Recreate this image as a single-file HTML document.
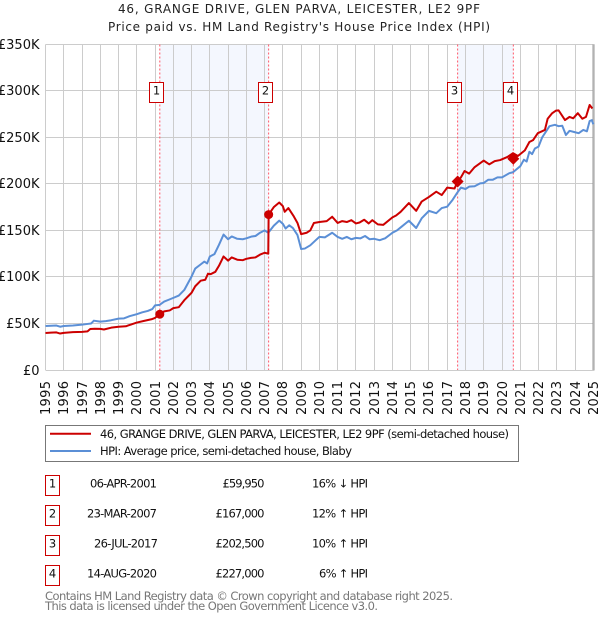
<!DOCTYPE html>
<html>
<head>
<meta charset="utf-8">
<style>
html,body{margin:0;padding:0;background:#fff;}
svg{display:block;font-family:"DejaVu Sans","Liberation Sans",sans-serif;}
</style>
</head>
<body>
<svg id="chart" width="600" height="620" viewBox="0 0 600 620" xmlns="http://www.w3.org/2000/svg">
  <rect width="600" height="620" fill="#fff"/>
  <text x="299" y="13" text-anchor="middle" font-size="12" fill="#222" textLength="362">46, GRANGE DRIVE, GLEN PARVA, LEICESTER, LE2 9PF</text>
  <text x="299" y="31" text-anchor="middle" font-size="12" fill="#222" textLength="382">Price paid vs. HM Land Registry's House Price Index (HPI)</text>
  <g id="bands"></g>
  <g id="grid"></g>
  <g id="ylabels"></g>
  <g id="xlabels"></g>
  <g id="series"></g>
  <g id="sales"></g>

  <g>
    <rect x="45.5" y="425.5" width="473" height="36" fill="#fff" stroke="#777" stroke-width="1"/>
    <line x1="50" x2="91" y1="433.8" y2="433.8" stroke="#cc0000" stroke-width="2"/>
    <text x="100" y="438" font-size="11.5" fill="#111" textLength="409">46, GRANGE DRIVE, GLEN PARVA, LEICESTER, LE2 9PF (semi-detached house)</text>
    <line x1="50" x2="91" y1="451" y2="451" stroke="#5b8fd6" stroke-width="2"/>
    <text x="100" y="455" font-size="11.5" fill="#111" textLength="252">HPI: Average price, semi-detached house, Blaby</text>
  </g>

  <g font-size="11.5" fill="#111">
    <rect x="45.5" y="475.5" width="14" height="20" fill="#fff" stroke="#cc0000" stroke-width="1"/>
    <text x="52.5" y="487.5" text-anchor="middle">1</text>
    <text x="157" y="487.5" text-anchor="end" textLength="67">06-APR-2001</text>
    <text x="264.5" y="487.5" text-anchor="end" textLength="42">£59,950</text>
    <text x="368" y="487.5" text-anchor="end" textLength="56">16% ↓ HPI</text>

    <rect x="45.5" y="505.5" width="14" height="20" fill="#fff" stroke="#cc0000" stroke-width="1"/>
    <text x="52.5" y="517.5" text-anchor="middle">2</text>
    <text x="157" y="517.5" text-anchor="end" textLength="70">23-MAR-2007</text>
    <text x="264.5" y="517.5" text-anchor="end" textLength="49">£167,000</text>
    <text x="368" y="517.5" text-anchor="end" textLength="56">12% ↑ HPI</text>

    <rect x="45.5" y="535.5" width="14" height="20" fill="#fff" stroke="#cc0000" stroke-width="1"/>
    <text x="52.5" y="547.5" text-anchor="middle">3</text>
    <text x="158" y="547.5" text-anchor="end" textLength="64">26-JUL-2017</text>
    <text x="264.5" y="547.5" text-anchor="end" textLength="49">£202,500</text>
    <text x="368" y="547.5" text-anchor="end" textLength="56">10% ↑ HPI</text>

    <rect x="45.5" y="565.5" width="14" height="20" fill="#fff" stroke="#cc0000" stroke-width="1"/>
    <text x="52.5" y="577.5" text-anchor="middle">4</text>
    <text x="157" y="577.5" text-anchor="end" textLength="70">14-AUG-2020</text>
    <text x="264.5" y="577.5" text-anchor="end" textLength="49">£227,000</text>
    <text x="368" y="577.5" text-anchor="end" textLength="49">6% ↑ HPI</text>
  </g>

  <text x="45" y="600" font-size="11.5" fill="#777" textLength="408">Contains HM Land Registry data © Crown copyright and database right 2025.</text>
  <text x="45" y="610" font-size="11.5" fill="#777" textLength="333">This data is licensed under the Open Government Licence v3.0.</text>
</svg>
<script>
const yearTicks = [1995,1996,1997,1998,1999,2000,2001,2002,2003,2004,2005,2006,2007,2008,2009,2010,2011,2012,2013,2014,2015,2016,2017,2018,2019,2020,2021,2022,2023,2024,2025];
const valueTicks = [0,50000,100000,150000,200000,250000,300000,350000];
const valueTickLabels = ['£0','£50K','£100K','£150K','£200K','£250K','£300K','£350K'];

const hpiDates = [1995,1995.3,1995.6,1995.8,1996,1996.5,1997,1997.3,1997.5,1997.65,1998,1998.3,1998.6,1999,1999.3,1999.6,2000,2000.3,2000.6,2000.85,2001,2001.25,2001.5,2001.75,2002,2002.3,2002.6,2003,2003.2,2003.5,2003.7,2003.85,2004,2004.25,2004.5,2004.75,2005,2005.2,2005.5,2005.8,2006,2006.3,2006.5,2006.75,2007,2007.2,2007.5,2007.8,2008,2008.15,2008.35,2008.55,2008.8,2009,2009.2,2009.5,2009.8,2010,2010.3,2010.7,2011,2011.25,2011.5,2011.75,2012,2012.25,2012.5,2012.75,2013,2013.3,2013.6,2014,2014.25,2014.5,2014.9,2015.3,2015.6,2016,2016.4,2016.7,2017,2017.3,2017.55,2017.75,2018,2018.2,2018.5,2018.8,2019,2019.25,2019.5,2019.75,2020,2020.4,2020.6,2021,2021.2,2021.35,2021.5,2021.65,2021.8,2022,2022.2,2022.4,2022.6,2022.9,2023.1,2023.3,2023.5,2023.7,2024,2024.2,2024.45,2024.65,2024.8,2024.92,2025];
const hpiValues = [47300,47600,47800,46500,47300,47800,48700,49500,50000,53000,52000,52500,53500,55200,55500,57800,60000,62000,63500,65500,69500,70000,73500,75500,77500,80000,86000,100500,109000,113500,116500,114500,122000,124500,134500,145500,140500,143500,141000,140500,141500,143500,144000,147500,150000,147500,155000,160500,157000,152000,155500,152500,145000,130000,130500,134000,139500,143000,142500,147500,143000,141000,143000,140500,142000,141500,144000,140500,141000,139500,141500,147500,150000,154000,160400,152600,163000,171000,168500,174000,175500,183000,190500,196000,194500,197000,197500,200500,201000,204500,204500,207000,207000,211500,212500,219000,226000,224000,234500,232000,238000,240000,250000,256000,262000,263500,262000,262500,252500,257000,255500,254500,258000,256500,267500,268500,264000];

const priceDates = [1995,1995.3,1995.6,1995.8,1996,1996.5,1997,1997.3,1997.45,1997.7,1998,1998.2,1998.6,1999,1999.4,1999.7,2000,2000.4,2000.8,2001,2001.26,2001.5,2001.8,2002,2002.3,2002.6,2003,2003.2,2003.5,2003.75,2003.9,2004.05,2004.3,2004.5,2004.75,2005,2005.2,2005.5,2005.8,2006,2006.25,2006.5,2006.75,2007,2007.2,2007.22,2007.5,2007.8,2008,2008.1,2008.3,2008.6,2008.8,2009,2009.3,2009.5,2009.7,2010,2010.4,2010.7,2011,2011.25,2011.5,2011.75,2012,2012.2,2012.45,2012.7,2012.9,2013.2,2013.5,2014,2014.2,2014.45,2014.9,2015.3,2015.6,2016,2016.4,2016.7,2017,2017.4,2017.57,2017.75,2017.95,2018.2,2018.5,2019,2019.3,2019.6,2019.9,2020.3,2020.6,2020.87,2021.25,2021.5,2021.7,2021.96,2022.35,2022.5,2022.75,2022.95,2023.1,2023.45,2023.7,2023.9,2024.15,2024.4,2024.6,2024.8,2024.95];
const priceValues = [39800,40200,40400,39200,39900,40700,41000,41500,44000,44300,44200,43500,45500,46500,47000,49000,51000,52800,54500,56000,59950,63000,64000,66500,67500,75000,83000,90000,96000,97000,103500,103000,105500,112000,122000,117500,121000,118500,118000,119500,120500,121000,124000,126000,125000,167000,175000,180000,176000,170000,174000,165000,158000,146000,147500,150000,158000,159000,160000,164700,158000,160000,159000,161000,157500,158500,161500,157500,161000,156500,156000,164000,166000,170000,179400,171000,181000,186000,191600,188000,196000,195000,202500,207000,213800,211000,218000,225000,221000,224500,225600,229000,233000,230000,236000,245000,247000,254500,258000,270000,276000,278700,279000,268600,272000,270500,276000,270000,272000,284800,281000];

const saleDates = [2001.26,2007.22,2017.57,2020.62];
const salePrices = [59950,167000,202500,227000];
const saleNumbers = ['1','2','3','4'];
const saleShapes = ['circle','circle','diamond','diamond'];
const bandRanges = [[0,1],[2,3]];

const NS = 'http://www.w3.org/2000/svg';
const plotLeft = 45.5, plotRight = 594.5, plotTop = 44.5, plotBottom = 370;
const badgeTop = 82.5;
function xScale(year){ return 45.5 + (year - 1995) * 18.26; }
function yScale(value){ return 370 - value * (325.7 / 350000); }
function make(tag, attrs, parent){
  const el = document.createElementNS(NS, tag);
  for (const k in attrs) el.setAttribute(k, attrs[k]);
  parent.appendChild(el);
  return el;
}
const bands = document.getElementById('bands');
const grid = document.getElementById('grid');
const ylabels = document.getElementById('ylabels');
const xlabels = document.getElementById('xlabels');
const seriesGroup = document.getElementById('series');
const salesGroup = document.getElementById('sales');

bandRanges.forEach(function(r){
  const el = make('rect', {x: xScale(saleDates[r[0]]), y: plotTop, width: xScale(saleDates[r[1]]) - xScale(saleDates[r[0]]), height: plotBottom - plotTop, fill: '#f4f7fe'}, bands);
  
  
});

yearTicks.forEach(function(year){
  const px = Math.round(xScale(year) - 0.5) + 0.5;
  const line = make('line', {x1: px, x2: px, y1: plotTop, y2: plotBottom, stroke: '#cccccc', 'stroke-width': 1}, grid);
  
  
  const cy = 398;
  const label = make('text', {x: px + 4.5, y: cy, 'font-size': 13, fill: '#111', 'text-anchor': 'middle', transform: 'rotate(-90 ' + (px + 4.5) + ' ' + cy + ')', textLength: 34}, xlabels);
  label.textContent = year;
  
  
});
valueTicks.forEach(function(value, i){
  const py = Math.round(yScale(value) - 0.5) + 0.5;
  const line = make('line', {x1: plotLeft, x2: plotRight, y1: py, y2: py, stroke: '#cccccc', 'stroke-width': 1}, grid);
  
  
  const label = make('text', {x: 39.5, y: py + 4.5, 'font-size': 13, fill: '#111', 'text-anchor': 'end'}, ylabels);
  label.textContent = valueTickLabels[i];
  
  
});
const rightEdge = make('line', {x1: plotRight, x2: plotRight, y1: plotTop, y2: plotBottom, stroke: '#cccccc', 'stroke-width': 1}, grid);


const endLine = make('line', {x1: 593, x2: 593, y1: plotTop, y2: plotBottom, stroke: '#999999', 'stroke-width': 1}, grid);



saleDates.forEach(function(d){
  const px = xScale(d);
  const line = make('line', {x1: px, x2: px, y1: plotTop, y2: plotBottom, stroke: '#ff5566', 'stroke-width': 1, 'stroke-dasharray': '2 2'}, grid);
  
  
});

function linePath(dates, values){
  return dates.map(function(d, i){ return (i ? 'L' : 'M') + xScale(d).toFixed(2) + ' ' + yScale(values[i]).toFixed(2); }).join(' ');
}
const hpiLine = make('path', {d: linePath(hpiDates, hpiValues), fill: 'none', stroke: '#5b8fd6', 'stroke-width': 2, 'stroke-linejoin': 'round'}, seriesGroup);


const priceLine = make('path', {d: linePath(priceDates, priceValues), fill: 'none', stroke: '#cc0000', 'stroke-width': 2, 'stroke-linejoin': 'round'}, seriesGroup);



saleDates.forEach(function(d, i){
  const px = xScale(d), py = yScale(salePrices[i]);
  let mark;
  if (saleShapes[i] === 'circle') {
    mark = make('circle', {cx: px, cy: py, r: 4.5, fill: '#cc0000'}, salesGroup);
  } else {
    mark = make('polygon', {points: [px, py - 6, px + 6, py, px, py + 6, px - 6, py].join(' '), fill: '#cc0000'}, salesGroup);
  }
  
  
  const bx = Math.floor(px - 10) + 0.5;
  const box = make('rect', {x: bx, y: badgeTop, width: 14, height: 20, fill: '#fff', stroke: '#cc0000', 'stroke-width': 1}, salesGroup);
  
  
  const t = make('text', {x: bx + 7, y: badgeTop + 12, 'font-size': 11.5, fill: '#111', 'text-anchor': 'middle'}, salesGroup);
  t.textContent = saleNumbers[i];
  
  
});
</script>
</body>
</html>
